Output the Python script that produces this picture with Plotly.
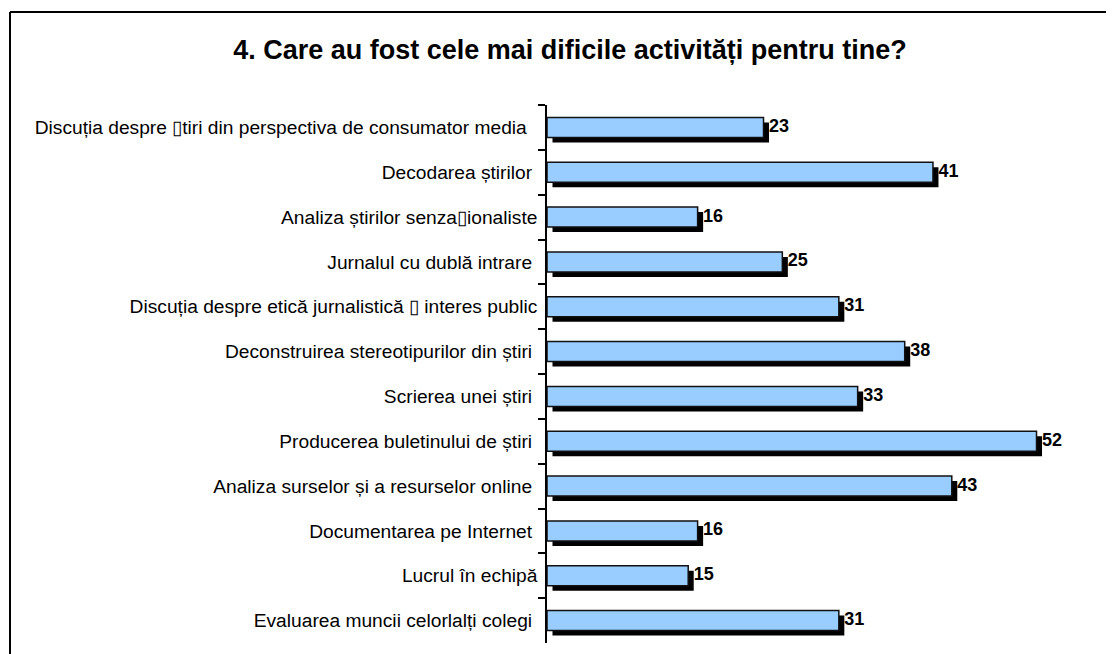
import plotly.graph_objects as go

NB = "\u00a0"
BOX = "\u25af"

categories = [
    "Discuția despre " + BOX + "tiri din perspectiva de consumator media" + NB * 2,
    "Decodarea știrilor" + NB,
    "Analiza știrilor senza" + BOX + "ionaliste",
    "Jurnalul cu dublă intrare" + NB,
    "Discuția despre etică jurnalistică " + BOX + " interes public",
    "Deconstruirea stereotipurilor din știri" + NB,
    "Scrierea unei știri" + NB,
    "Producerea buletinului de știri" + NB,
    "Analiza surselor și a resurselor online" + NB,
    "Documentarea pe Internet" + NB,
    "Lucrul în echipă",
    "Evaluarea muncii celorlalți colegi" + NB,
]
values = [23, 41, 16, 25, 31, 38, 33, 52, 43, 16, 15, 31]
value_labels = [str(v) for v in values]

title_text = "4. Care au fost cele mai dificile activități pentru tine?"

# page body has an 8px margin; compensate so the figure lands where the reference does
OFF = 8
W, H = 1114, 654
ML, MT = 547 - OFF, 105 - OFF
MR = W - (1093 - OFF)
MB = H - (643 - OFF)
XMAX = 58
pw = W - ML - MR
ph = H - MT - MB
px_per_unit = pw / XMAX
n = len(categories)
cat_px = ph / n

shadow_dx = 5.5 / px_per_unit
shadow_dy = 5.0 / cat_px
bar_w = 20.0 / cat_px

fig = go.Figure()

# shadow
fig.add_trace(go.Bar(
    y=categories, x=values, base=shadow_dx, orientation="h",
    width=bar_w, offset=-bar_w / 2 + shadow_dy,
    marker=dict(color="#000000", line=dict(width=0)),
    hoverinfo="skip", showlegend=False,
))
# main bars
fig.add_trace(go.Bar(
    y=categories, x=values, orientation="h",
    width=bar_w, offset=-bar_w / 2,
    marker=dict(color="#99CCFF", line=dict(color="#111111", width=1.5)),
    showlegend=False,
))
# value labels
fig.add_trace(go.Scatter(
    y=categories, x=[v + shadow_dx for v in values], mode="text",
    text=value_labels, textposition="middle right",
    textfont=dict(family="Liberation Sans", size=18, color="#000000", weight="bold"),
    hoverinfo="skip", showlegend=False, cliponaxis=False,
))

def xp(px):
    return (px - OFF - ML) / pw

def yp(py):
    return (H - MB - (py - OFF)) / ph

fig.update_layout(
    width=W, height=H,
    margin=dict(l=ML, r=MR, t=MT, b=MB, pad=0),
    paper_bgcolor="white", plot_bgcolor="white",
    barmode="overlay",
    title=dict(
        text=title_text, x=(570 - OFF) / W, y=1 - (50 - OFF) / H,
        xanchor="center", yanchor="middle", xref="container", yref="container",
        font=dict(family="Liberation Sans", size=27, color="#000000", weight="bold"),
    ),
    xaxis=dict(range=[0, XMAX], visible=False, fixedrange=True),
    yaxis=dict(
        range=[n - 0.5, -0.5], autorange=False,
        showline=True, linecolor="#000000", linewidth=1.5,
        ticks="outside", tickson="boundaries", ticklen=7, tickwidth=1.5, tickcolor="#000000",
        showgrid=False, zeroline=False, ticklabelstandoff=4,
        tickfont=dict(family="Liberation Sans", size=19.2, color="#000000"),
    ),
    shapes=[
        dict(type="line", xref="paper", yref="paper",
             x0=xp(10), x1=xp(10), y0=yp(12), y1=yp(H + 30),
             line=dict(color="#000000", width=2)),
        dict(type="line", xref="paper", yref="paper",
             x0=xp(10), x1=xp(W + 30), y0=yp(12), y1=yp(12),
             line=dict(color="#000000", width=2)),
    ],
)

fig.write_html("out.html")
